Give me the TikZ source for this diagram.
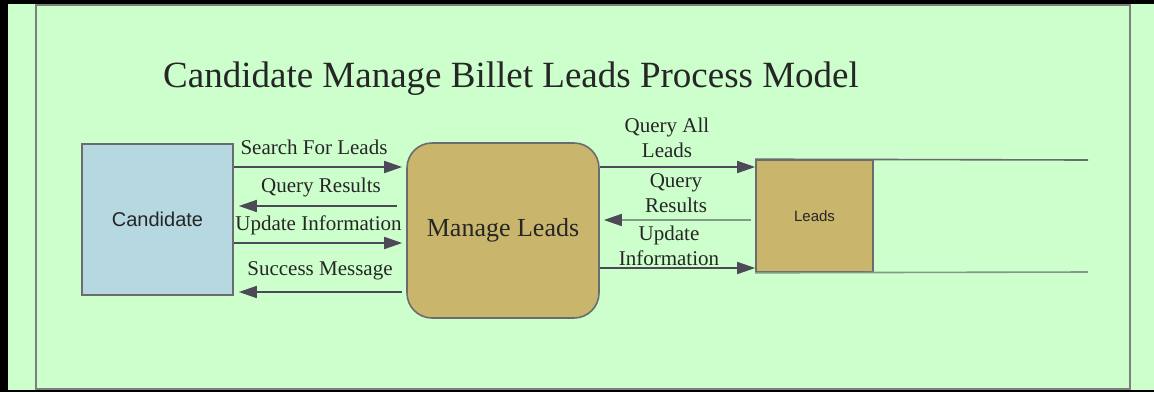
\documentclass[tikz,border=0pt]{standalone}
\usepackage{fontspec}
\setmainfont{Liberation Serif}
\newfontfamily\serifface{Liberation Serif}
\newfontfamily\arialfont{Liberation Sans}
\usetikzlibrary{positioning,arrows.meta}

\definecolor{pagegreen}{HTML}{CCFFCC}
\definecolor{framegray}{HTML}{7F7F7F}
\definecolor{candblue}{HTML}{B6D8E1}
\definecolor{khaki}{HTML}{C9B66C}
\definecolor{boxedge}{HTML}{6B6B70}
\definecolor{flowdark}{HTML}{4D4A57}
\definecolor{flowlight}{HTML}{819B88}
\definecolor{inkgray}{HTML}{262626}

\begin{document}
\begin{tikzpicture}[
    x=1pt, y=-1pt,
    >={Triangle[length=18pt,width=12pt]},
    entity/.style={draw=boxedge, line width=1.6pt, fill=candblue, minimum width=151pt, minimum height=151pt, font=\arialfont\fontsize{20}{24}\selectfont, text=inkgray},
    process/.style={draw=boxedge, line width=1.6pt, fill=khaki, rounded corners=25pt, minimum width=192pt, minimum height=175pt, font=\serifface\fontsize{26}{30}\selectfont, text=inkgray},
    datastore/.style={draw=boxedge, line width=1.6pt, fill=khaki, minimum width=117pt, minimum height=112pt, font=\arialfont\fontsize{15}{18}\selectfont, text=inkgray},
    flow/.style={draw=flowdark, line width=1.6pt, ->},
    flowback/.style={draw=flowlight, line width=1.6pt, -{Triangle[length=18pt,width=12pt,color=flowdark]}},
    lbl/.style={font=\serifface\fontsize{21}{25}\selectfont, text=inkgray, align=center, inner sep=0pt}
]
  \useasboundingbox (0,0) rectangle (1154,392);

  % page and frame
  \fill[pagegreen] (0,0) rectangle (1154,392);
  \fill[black] (0,0) rectangle (8,392);
  \fill[black] (0,0) rectangle (1154,4);
  \fill[black] (8,390) rectangle (1154,392);
  \draw[framegray, line width=2pt] (36,5) rectangle (1130,389);

  % title
  \node[anchor=base west, inner sep=0pt, text=inkgray, font=\serifface\fontsize{37}{44}\selectfont] (title) at (163,87) {Candidate Manage Billet Leads Process Model};

  % nodes
  \node[entity] (cand) at (157.5,219.5) {Candidate};
  \node[process] (mgr) at (503,230.5) {Manage Leads};
  \node[datastore] (leads) at (814.5,216) {Leads};

  % open side of the store
  \coordinate (storetop) at (1088,160);
  \coordinate (storebot) at (1088,272);
  \draw[boxedge, line width=1.6pt] (leads.north west) -- (storetop);
  \draw[flowlight, line width=1.6pt] (leads.south west) -- (storebot);

  % rows of the flows
  \coordinate (r1) at (0,167);
  \coordinate (r2) at (0,206);
  \coordinate (r3) at (0,243);
  \coordinate (r4) at (0,292);
  \coordinate (r5) at (0,167);
  \coordinate (r6) at (0,220);
  \coordinate (r7) at (0,268);

  % candidate <-> manage leads
  \draw[flow, shorten >=4pt] (cand.east |- r1) -- (mgr.west |- r1);
  \draw[flow, shorten <=9pt, shorten >=5pt] (mgr.west |- r2) -- (cand.east |- r2);
  \draw[flow, shorten >=4pt] (cand.east |- r3) -- (mgr.west |- r3);
  \draw[flow, shorten <=4pt, shorten >=5pt] (mgr.west |- r4) -- (cand.east |- r4);

  % manage leads <-> leads
  \draw[flow] (mgr.east |- r5) -- (leads.west |- r5);
  \draw[flowback, shorten <=4pt, shorten >=4pt] (leads.west |- r6) -- (mgr.east |- r6);
  \draw[flow] (mgr.east |- r7) -- (leads.west |- r7);

  % labels (base = last line)
  \node[lbl, anchor=base] (searchlbl) at (314,154) {Search For Leads};
  \node[lbl, anchor=base] (resultlbl) at (321,192) {Query Results};
  \node[lbl, anchor=base] (updatelbl) at (318.5,230) {Update Information};
  \node[lbl, anchor=base] (successlbl) at (320,275) {Success Message};
  \node[lbl, anchor=base] (querylbl) at (667,157) {Query All\\Leads};
  \node[lbl, anchor=base] (storeresultlbl) at (676,212) {Query\\Results};
  \node[lbl, anchor=base] (storeupdatelbl) at (669,265) {Update\\Information};

\end{tikzpicture}
\end{document}
